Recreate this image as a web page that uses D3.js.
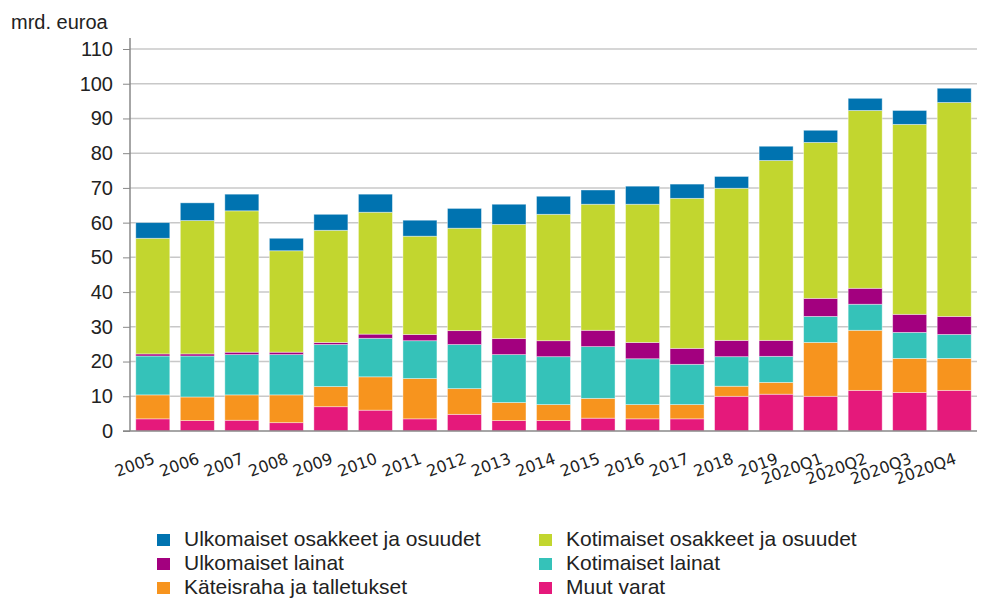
<!DOCTYPE html>
<html>
<head>
<meta charset="utf-8">
<script src="https://cdn.jsdelivr.net/npm/d3@7"></script>
<style>
  body { margin: 0; background: #fff; }
  text { font-family: "Liberation Sans", Arial, sans-serif; fill: #222; }
</style>
</head>
<body>
<svg id="chart" width="981" height="599"></svg>
<script>
// categories and series (mrd. euroa)
const categories = ["2005", "2006", "2007", "2008", "2009", "2010", "2011", "2012", "2013", "2014",
    "2015", "2016", "2017", "2018", "2019", "2020Q1", "2020Q2", "2020Q3", "2020Q4"];

const muutVarat = [3.5, 3.0, 3.1, 2.4, 7.0, 6.0, 3.5, 4.8, 3.0, 3.0, 3.7, 3.5, 3.5, 10.0, 10.6, 10.0, 11.7, 11.1, 11.7];
const kateisraha = [6.9, 6.8, 7.3, 8.0, 5.8, 9.6, 11.6, 7.4, 5.2, 4.6, 5.7, 4.1, 4.1, 2.9, 3.4, 15.5, 17.3, 9.8, 9.2];
const kotimaisetLainat = [11.2, 11.8, 11.6, 11.6, 12.1, 11.1, 10.9, 12.7, 13.8, 13.8, 14.9, 13.2, 11.6, 8.5, 7.5, 7.5, 7.5, 7.5, 6.9];
const ulkomaisetLainat = [0.6, 0.6, 0.7, 0.7, 0.6, 1.2, 1.8, 4.0, 4.6, 4.6, 4.7, 4.7, 4.6, 4.7, 4.6, 5.2, 4.6, 5.2, 5.2];
const kotimaisetOsakkeet = [33.3, 38.4, 40.7, 29.2, 32.3, 35.1, 28.3, 29.5, 32.9, 36.4, 36.3, 39.8, 43.2, 43.8, 51.8, 44.9, 51.2, 54.7, 61.6];
const ulkomaisetOsakkeet = [4.5, 5.1, 4.8, 3.6, 4.6, 5.2, 4.6, 5.7, 5.8, 5.2, 4.1, 5.2, 4.1, 3.4, 4.1, 3.5, 3.5, 4.0, 4.1];

const yTicks = [0, 10, 20, 30, 40, 50, 60, 70, 80, 90, 100, 110];

// bottom-to-top stacking order
const seriesKeys = ["muut", "kateis", "kotiL", "ulkoL", "kotiO", "ulkoO"];
const seriesNames = {
    ulkoO: "Ulkomaiset osakkeet ja osuudet",
    kotiO: "Kotimaiset osakkeet ja osuudet",
    ulkoL: "Ulkomaiset lainat",
    kotiL: "Kotimaiset lainat",
    kateis: "Käteisraha ja talletukset",
    muut: "Muut varat"
};
const colors = {
    ulkoO: "#0073b0",
    kotiO: "#c2d62f",
    ulkoL: "#a3007f",
    kotiL: "#35c2b9",
    kateis: "#f7941e",
    muut: "#e5197b"
};

const rows = categories.map((c, i) => ({
    cat: c,
    muut: muutVarat[i],
    kateis: kateisraha[i],
    kotiL: kotimaisetLainat[i],
    ulkoL: ulkomaisetLainat[i],
    kotiO: kotimaisetOsakkeet[i],
    ulkoO: ulkomaisetOsakkeet[i]
}));

const svg = d3.select("#chart");

const x = d3.scaleBand()
    .domain(categories)
    .range([130, 977])
    .paddingInner(0.236)
    .paddingOuter(0.13);

const y = d3.scaleLinear()
    .domain([0, 110])
    .range([431, 49]);

// gridlines
svg.append("g")
    .selectAll("line")
    .data(yTicks.filter(d => d > 0))
    .join("line")
    .attr("x1", 130)
    .attr("x2", 977)
    .attr("y1", d => y(d))
    .attr("y2", d => y(d))
    .attr("stroke", "#c8c8c8")
    .attr("stroke-width", 1.5);

// stacked bars
const stacked = d3.stack().keys(seriesKeys)(rows);

svg.append("g")
    .selectAll("g")
    .data(stacked)
    .join("g")
    .attr("fill", d => colors[d.key])
    .selectAll("rect")
    .data(d => d)
    .join("rect")
    .attr("x", d => x(d.data.cat))
    .attr("width", x.bandwidth())
    .attr("y", d => y(d[1]))
    .attr("height", d => y(d[0]) - y(d[1]))
    .attr("stroke", "#ffffff")
    .attr("stroke-opacity", 0.5)
    .attr("stroke-width", 0.8);

// y axis
const yAxis = svg.append("g")
    .attr("transform", "translate(130,0)")
    .call(d3.axisLeft(y).tickValues(yTicks).tickSize(7).tickPadding(10));
yAxis.select(".domain").remove();
yAxis.selectAll(".tick line").attr("stroke", "#888");
yAxis.selectAll(".tick text")
    .style("font-family", "Liberation Sans, Arial, sans-serif")
    .style("font-size", "20px")
    .attr("fill", "#222");

svg.append("line")
    .attr("x1", 130).attr("x2", 130)
    .attr("y1", 38).attr("y2", 431)
    .attr("stroke", "#888")
    .attr("stroke-width", 1.5);

svg.append("line")
    .attr("x1", 123).attr("x2", 977)
    .attr("y1", 431).attr("y2", 431)
    .attr("stroke", "#888")
    .attr("stroke-width", 1.5);

// x axis labels
const xAxis = svg.append("g")
    .attr("transform", "translate(0,431)")
    .call(d3.axisBottom(x).tickSize(0));
xAxis.select(".domain").remove();
xAxis.selectAll(".tick text")
    .attr("y", 0)
    .attr("dy", 0)
    .attr("text-anchor", "end")
    .attr("transform", "translate(3,32) rotate(-20)")
    .style("font-family", "DejaVu Sans, sans-serif")
    .style("font-size", "16px")
    .attr("fill", "#1a1a1a");

// unit label
svg.append("text")
    .attr("x", 11)
    .attr("y", 29)
    .style("font-size", "20px")
    .text("mrd. euroa");

// legend
const legendItems = [
    { key: "ulkoO", col: 0, row: 0 },
    { key: "ulkoL", col: 0, row: 1 },
    { key: "kateis", col: 0, row: 2 },
    { key: "kotiO", col: 1, row: 0 },
    { key: "kotiL", col: 1, row: 1 },
    { key: "muut", col: 1, row: 2 }
];
const legendX = [157, 539];

const legend = svg.append("g")
    .selectAll("g")
    .data(legendItems)
    .join("g")
    .attr("transform", d => "translate(" + legendX[d.col] + "," + (546 + d.row * 24) + ")");

legend.append("rect")
    .attr("x", 0)
    .attr("y", -12)
    .attr("width", 13)
    .attr("height", 12)
    .attr("fill", d => colors[d.key]);

legend.append("text")
    .attr("x", 27)
    .attr("y", 0)
    .style("font-size", "21px")
    .text(d => seriesNames[d.key]);
</script>
</body>
</html>
